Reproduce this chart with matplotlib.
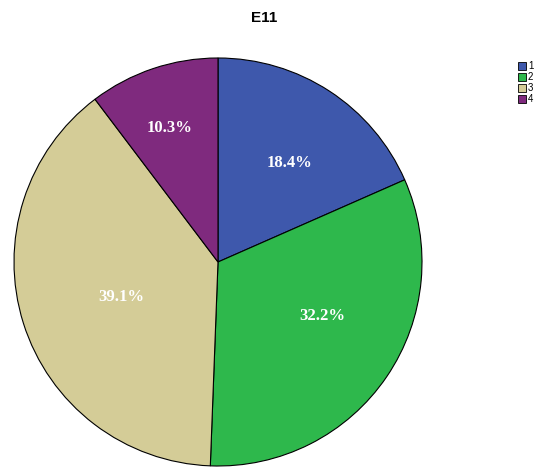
import numpy as np
import matplotlib.pyplot as plt
from matplotlib.patches import Rectangle

categories = ["1", "2", "3", "4"]
shares = [18.4, 32.2, 39.1, 10.3]
colors = ["#3e58ac", "#2eb84c", "#d4cc97", "#7f2a7e"]
# label placement: fraction of radius and angular nudge (degrees) from mid-angle
label_radius = [0.60, 0.575, 0.505, 0.70]
label_nudge = [-2.7, 6.8, 2.3, 1.1]

fig = plt.figure(figsize=(5.37, 4.67), dpi=100)
ax = fig.add_axes([14 / 537, 1 / 467, 408 / 537, 408 / 467])

wedges, _ = ax.pie(
    shares, colors=colors, startangle=90, counterclock=False,
    wedgeprops=dict(edgecolor="black", linewidth=0.8),
)
ax.set_xlim(-1, 1)
ax.set_ylim(-1, 1)

for w, val, r, d in zip(wedges, shares, label_radius, label_nudge):
    mid = np.deg2rad((w.theta1 + w.theta2) / 2 + d)
    ax.text(r * np.cos(mid), r * np.sin(mid), f"{val:.1f}%",
            ha="center", va="center", color="white", fontsize=12,
            fontweight="bold", family="Liberation Serif")

fig.text(264 / 537, 1 - 18 / 467, "E11", ha="center", va="center",
         fontsize=11, fontweight="bold", family="Liberation Sans")

# small legend in the upper right corner
for i, (cat, col) in enumerate(zip(categories, colors)):
    y = 66 + i * 11
    fig.patches.append(Rectangle(
        (518 / 537, 1 - (y + 4) / 467), 8 / 537, 8 / 467,
        transform=fig.transFigure, facecolor=col, edgecolor="black",
        linewidth=0.6))
    fig.text(528 / 537, 1 - y / 467, cat, ha="left", va="center",
             fontsize=7, family="Liberation Sans")

fig.savefig("out.png", dpi=100)
